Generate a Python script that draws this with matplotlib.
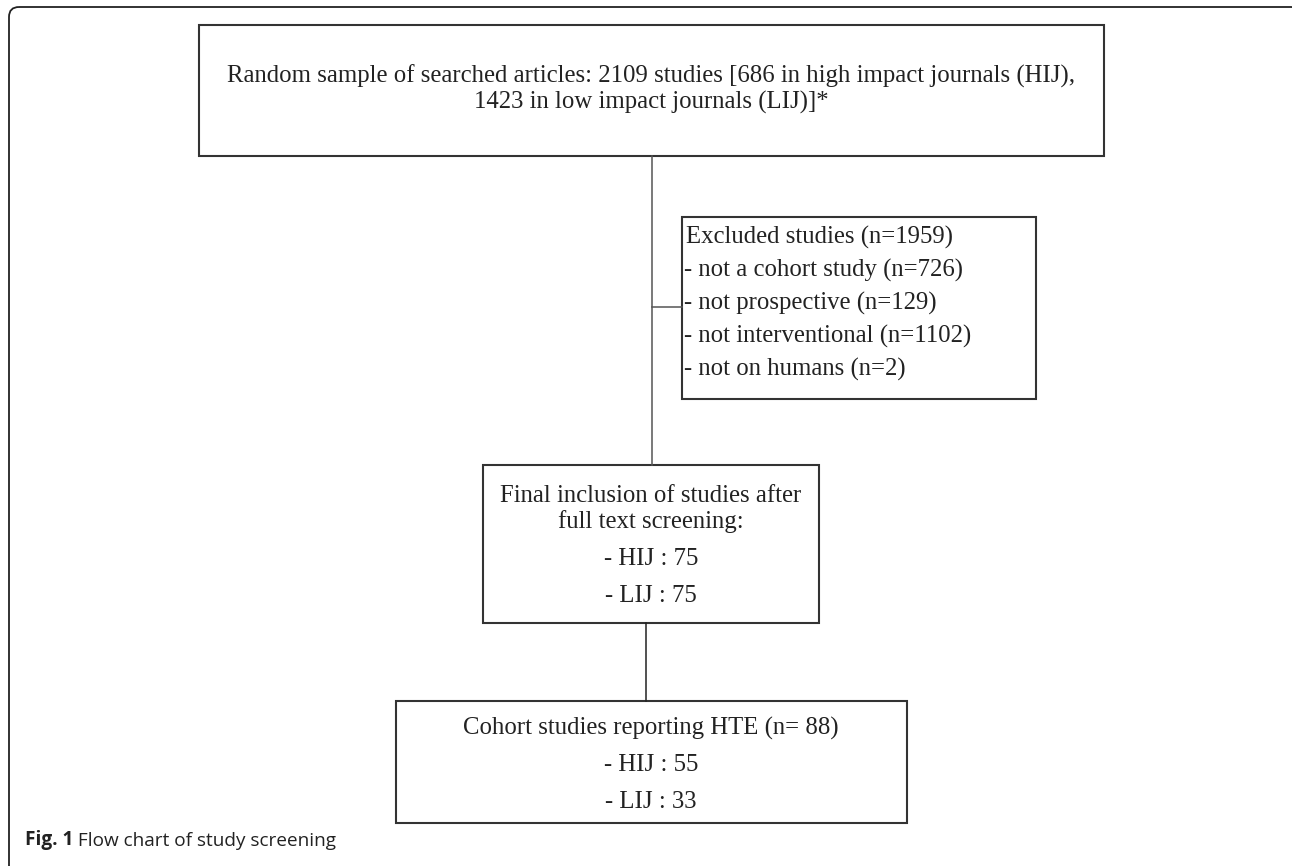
import matplotlib
matplotlib.use("Agg")
import matplotlib.pyplot as plt
from matplotlib.patches import Rectangle, FancyBboxPatch

# ---- data ----
total_studies = 2109
total_hij = 686
total_lij = 1423
excluded_total = 1959
excluded_labels = ["not a cohort study", "not prospective", "not interventional", "not on humans"]
excluded_counts = [726, 129, 1102, 2]
included_hij = 75
included_lij = 75
hte_total = 88
hte_hij = 55
hte_lij = 33
caption_bold = "Fig. 1"
caption_text = "Flow chart of study screening"

W, H = 1292, 866
fig = plt.figure(figsize=(W / 100, H / 100), dpi=100)
ax = fig.add_axes([0, 0, 1, 1])
ax.set_xlim(0, W)
ax.set_ylim(H, 0)
ax.axis("off")

serif = ["Liberation Serif", "DejaVu Serif"]
fs = 17.8
box_col = "#333333"
line_col = "#555555"
txt_col = "#222222"

# outer frame (rounded top corners; right edge and bottom fall outside the image)
frame = FancyBboxPatch((9, 7), 1292, 960, boxstyle="round,pad=0,rounding_size=10",
                       fill=False, ec="#222222", lw=1.3, clip_on=True)
ax.add_patch(frame)

def box(x0, y0, x1, y1):
    ax.add_patch(Rectangle((x0, y0), x1 - x0, y1 - y0, fill=False, ec=box_col, lw=1.5))

def txt(x, y, s, ha="center"):
    ax.text(x, y, s, ha=ha, va="center", fontsize=fs, family=serif, color=txt_col)

# connectors
ax.plot([652, 652], [156, 465], color=line_col, lw=1.1)
ax.plot([652, 682], [307, 307], color=line_col, lw=1.1)
ax.plot([646, 646], [623, 701], color="#222222", lw=1.1)

# top box
box(199, 25, 1104, 156)
txt(651, 76, f"Random sample of searched articles: {total_studies} studies [{total_hij} in high impact journals (HIJ),")
txt(651, 102, f"{total_lij} in low impact journals (LIJ)]*")

# excluded box
box(682, 217, 1036, 399)
txt(686, 237, f"Excluded studies (n={excluded_total})", ha="left")
for i, (lab, n) in enumerate(zip(excluded_labels, excluded_counts)):
    txt(684, 270 + 33 * i, f"- {lab} (n={n})", ha="left")

# final inclusion box
box(483, 465, 819, 623)
txt(651, 496, "Final inclusion of studies after")
txt(651, 522, "full text screening:")
txt(651, 559, f"- HIJ : {included_hij}")
txt(651, 596, f"- LIJ : {included_lij}")

# cohort box
box(396, 701, 907, 823)
txt(651, 728, f"Cohort studies reporting HTE (n= {hte_total})")
txt(651, 765, f"- HIJ : {hte_hij}")
txt(651, 802, f"- LIJ : {hte_lij}")

# caption
t1 = ax.text(25, 845, caption_bold, ha="left", va="baseline", fontsize=13.7,
             family=["Open Sans", "DejaVu Sans"], fontweight="bold", color=txt_col)
ax.annotate(" " + caption_text, xy=(1, 0), xycoords=t1, ha="left", va="bottom",
            fontsize=13.7, family=["Open Sans", "DejaVu Sans"], color=txt_col)

fig.savefig("out.png", dpi=100)
